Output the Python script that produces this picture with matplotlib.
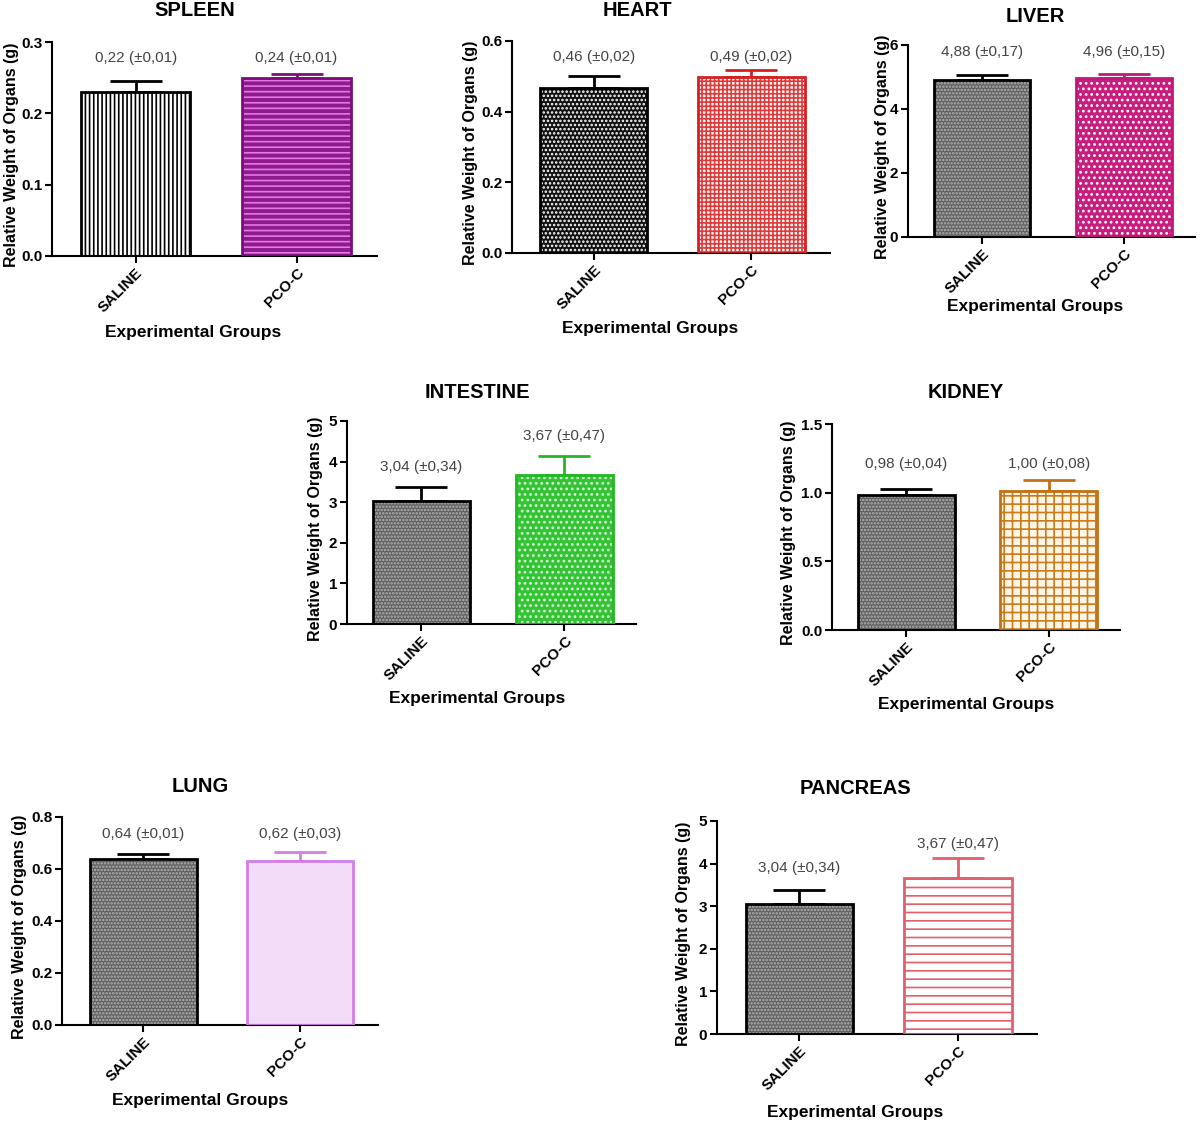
import numpy as np
import matplotlib.pyplot as plt

plt.rcParams['font.family'] = ['Liberation Sans', 'DejaVu Sans']
plt.rcParams['hatch.linewidth'] = 1.2

# data
groups = ['SALINE', 'PCO-C']

spleen_means = [0.230, 0.249]
spleen_err = [0.016, 0.006]
spleen_text = ['0,22 (±0,01)', '0,24 (±0,01)']

heart_means = [0.468, 0.497]
heart_err = [0.032, 0.021]
heart_text = ['0,46 (±0,02)', '0,49 (±0,02)']

liver_means = [4.90, 4.97]
liver_err = [0.15, 0.13]
liver_text = ['4,88 (±0,17)', '4,96 (±0,15)']

intestine_means = [3.04, 3.67]
intestine_err = [0.34, 0.47]
intestine_text = ['3,04 (±0,34)', '3,67 (±0,47)']

kidney_means = [0.985, 1.01]
kidney_err = [0.045, 0.08]
kidney_text = ['0,98 (±0,04)', '1,00 (±0,08)']

lung_means = [0.640, 0.630]
lung_err = [0.018, 0.035]
lung_text = ['0,64 (±0,01)', '0,62 (±0,03)']

pancreas_means = [3.04, 3.67]
pancreas_err = [0.34, 0.47]
pancreas_text = ['3,04 (±0,34)', '3,67 (±0,47)']

W, H = 1200, 1124
fig = plt.figure(figsize=(W / 100, H / 100), dpi=100)

# styles: (face, hatch, hatch colour, edge colour)
grey = ('#5f5f5f', '.....', '#b4b4b4', 'black')
styles = {
    'SPLEEN': [('white', '||||', 'black', 'black'), ('#8e1a8e', '---', '#e27ae2', '#7a0f7a')],
    'HEART': [('#111111', '....', 'white', 'black'), ('white', '++++', '#e03a3a', '#d42020')],
    'LIVER': [grey, ('#c81d7c', '...', 'white', '#c0187a')],
    'INTESTINE': [grey, ('#33c433', '...', '#d8f5d8', '#22b822')],
    'KIDNEY': [grey, ('#fff6e6', '++', '#cc7a1a', '#c47012')],
    'LUNG': [grey, ('#f3dcf7', '', '#f3dcf7', '#d27ee6')],
    'PANCREAS': [grey, ('white', '--', '#e0606e', '#e0606e')],
}


def px_rect(x0, x1, ytop, ybase):
    return [x0 / W, 1 - ybase / H, (x1 - x0) / W, (ybase - ytop) / H]


def draw_panel(name, means, errs, texts, rect, ymax, yticks, ytl, text_y,
               title_xy, xlabel_xy, ylabel_x):
    ax = fig.add_axes(px_rect(*rect))
    x = np.arange(len(groups))
    for i in range(len(groups)):
        face, hatch, hcol, edge = styles[name][i]
        ax.bar(x[i], means[i], width=0.68, color=face, hatch=hatch,
               edgecolor=hcol, linewidth=0, zorder=2)
        ax.bar(x[i], means[i], width=0.68, fill=False, edgecolor=edge,
               linewidth=2, zorder=3)
        ax.errorbar(x[i], means[i], yerr=[[0], [errs[i]]], fmt='none',
                    ecolor=edge, elinewidth=2, capsize=19, capthick=2, zorder=1)
        ax.text(x[i], text_y[i], texts[i], ha='center', va='center',
                fontsize=11, color='#444444')
    ax.set_xlim(-0.52, 1.5)
    ax.set_ylim(0, ymax)
    ax.set_yticks(yticks)
    ax.set_yticklabels(ytl, fontsize=11, fontweight='bold')
    ax.set_xticks(x)
    ax.set_xticklabels(groups, rotation=45, ha='right', rotation_mode='anchor',
                       fontsize=11, fontweight='bold')
    for s in ['top', 'right']:
        ax.spines[s].set_visible(False)
    for s in ['left', 'bottom']:
        ax.spines[s].set_linewidth(1.5)
    ax.tick_params(width=1.5, length=5, pad=2)
    ax.patch.set_alpha(0)

    fig.text(title_xy[0] / W, 1 - title_xy[1] / H, name, ha='center',
             va='center', fontsize=14.5, fontweight='bold')
    fig.text(xlabel_xy[0] / W, 1 - xlabel_xy[1] / H, 'Experimental Groups',
             ha='center', va='center', fontsize=12.5, fontweight='bold')
    yc = (rect[2] + rect[3]) / 2 + 6
    fig.text(ylabel_x / W, 1 - yc / H, 'Relative Weight of Organs (g)',
             ha='center', va='center', rotation=90, fontsize=11.5,
             fontweight='bold')
    return ax


draw_panel('SPLEEN', spleen_means, spleen_err, spleen_text,
           (52, 377, 42, 256), 0.3, [0, 0.1, 0.2, 0.3],
           ['0.0', '0.1', '0.2', '0.3'], [0.278, 0.278],
           (195, 10), (193, 333), 12)
draw_panel('HEART', heart_means, heart_err, heart_text,
           (512, 830, 41, 253), 0.6, [0, 0.2, 0.4, 0.6],
           ['0.0', '0.2', '0.4', '0.6'], [0.555, 0.555],
           (637, 10), (650, 329), 470)
draw_panel('LIVER', liver_means, liver_err, liver_text,
           (908, 1195, 45, 237), 6, [0, 2, 4, 6],
           ['0', '2', '4', '6'], [5.78, 5.78],
           (1035, 16), (1035, 307), 882)
draw_panel('INTESTINE', intestine_means, intestine_err, intestine_text,
           (347, 636, 421, 624), 5, [0, 1, 2, 3, 4, 5],
           ['0', '1', '2', '3', '4', '5'], [3.87, 4.63],
           (477, 393), (477, 698), 316)
draw_panel('KIDNEY', kidney_means, kidney_err, kidney_text,
           (832, 1120, 424, 630), 1.5, [0, 0.5, 1.0, 1.5],
           ['0.0', '0.5', '1.0', '1.5'], [1.21, 1.21],
           (966, 393), (966, 705), 788)
draw_panel('LUNG', lung_means, lung_err, lung_text,
           (62, 378, 817, 1025), 0.8, [0, 0.2, 0.4, 0.6, 0.8],
           ['0.0', '0.2', '0.4', '0.6', '0.8'], [0.735, 0.735],
           (200, 787), (200, 1101), 20)
draw_panel('PANCREAS', pancreas_means, pancreas_err, pancreas_text,
           (717, 1037, 821, 1034), 5, [0, 1, 2, 3, 4, 5],
           ['0', '1', '2', '3', '4', '5'], [3.9, 4.46],
           (855, 788), (855, 1112), 684)

fig.savefig('out.png', dpi=100)
